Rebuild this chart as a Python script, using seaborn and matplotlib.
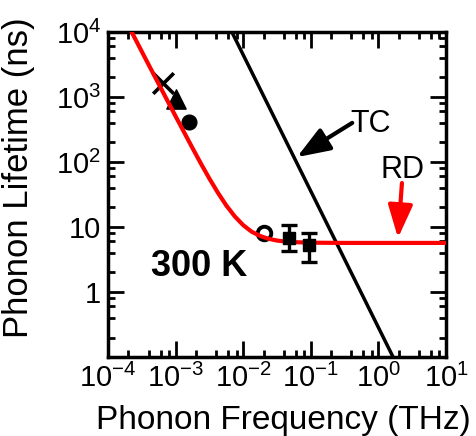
import matplotlib
matplotlib.use("Agg")
import numpy as np
import matplotlib.pyplot as plt
import matplotlib.ticker as mticker
import seaborn as sns

# RD curve (red)
rd_freq = [2.0e-4, 3.16e-4, 5.62e-4, 1.0e-3, 1.78e-3, 2.37e-3, 3.16e-3, 4.22e-3,
           5.62e-3, 7.5e-3, 1.0e-2, 1.33e-2, 1.78e-2, 2.37e-2, 3.16e-2, 4.22e-2,
           5.62e-2, 0.1, 0.316, 1.0, 10.0]
rd_tau = [12565, 5006, 1587, 506, 163.8, 94.6, 55.7, 33.8,
          21.5, 14.6, 10.7, 8.5, 7.28, 6.6, 6.2, 5.98,
          5.86, 5.75, 5.7, 5.7, 5.7]

# TC line (black)
tc_freq = [6.8e-3, 1.65]
tc_tau = [1e4, 0.1]

# measured points
cross_freq = [6.5e-4]
cross_tau = [1640]
tri_freq = [1.0e-3]
tri_tau = [920]
dot_freq = [1.58e-3]
dot_tau = [410]
ring_freq = [0.02]
ring_tau = [8.0]
sq_freq = [0.047, 0.095]
sq_tau = [6.8, 5.3]
sq_lo = [4.3, 2.9]
sq_hi = [10.7, 8.1]

y_ticks = [1, 10, 100, 1000, 10000]
y_labels = ["1", "10", r"$10^{2}$", r"$10^{3}$", r"$10^{4}$"]

sns.set_style("ticks")
plt.rcParams["font.family"] = ["Liberation Sans", "DejaVu Sans"]
plt.rcParams["mathtext.fontset"] = "custom"
plt.rcParams["mathtext.rm"] = "Liberation Sans"
plt.rcParams["mathtext.it"] = "Liberation Sans:italic"
plt.rcParams["mathtext.bf"] = "Liberation Sans:bold"
plt.rcParams["text.color"] = "black"
plt.rcParams["axes.labelcolor"] = "black"

fig, ax = plt.subplots(figsize=(4.77, 4.36), dpi=100)
fig.subplots_adjust(left=0.2264, right=0.935, bottom=0.181, top=0.9266)

sns.lineplot(x=tc_freq, y=tc_tau, color="black", lw=2.5, ax=ax,
             estimator=None, sort=False, zorder=2)

sns.scatterplot(x=ring_freq, y=ring_tau, marker="o", s=95, facecolor="white",
                edgecolor="black", linewidth=2.8, ax=ax, zorder=3)
sns.scatterplot(x=cross_freq, y=cross_tau, marker="x", s=220, color="black",
                linewidth=2.6, ax=ax, zorder=3)
sns.scatterplot(x=tri_freq, y=tri_tau, marker="^", s=190, color="black",
                edgecolor="black", ax=ax, zorder=3)
sns.scatterplot(x=dot_freq, y=dot_tau, marker="o", s=115, color="black",
                edgecolor="black", ax=ax, zorder=3)

sns.lineplot(x=rd_freq, y=rd_tau, color="red", lw=3, ax=ax,
             estimator=None, sort=False, zorder=4)

ax.errorbar(sq_freq, sq_tau,
            yerr=[np.subtract(sq_tau, sq_lo), np.subtract(sq_hi, sq_tau)],
            fmt="s", color="black", ms=8.5, capsize=6, capthick=2.4,
            elinewidth=2.4, zorder=5)

ax.set_xscale("log")
ax.set_yscale("log")
ax.set_xlim(1e-4, 10)
ax.set_ylim(0.1, 1e4)

# annotations
ax.annotate("", xy=(0.0625, 119), xytext=(0.41, 400),
            arrowprops=dict(arrowstyle="-|>,head_length=0.8,head_width=0.3",
                            color="black", lw=3, mutation_scale=25,
                            shrinkA=0, shrinkB=0))
ax.text(0.78, 385, "TC", fontsize=22, ha="center", va="center")

ax.annotate("", xy=(1.95, 6.8), xytext=(2.23, 47.5),
            arrowprops=dict(arrowstyle="-|>,head_length=0.8,head_width=0.3",
                            color="red", lw=3, mutation_scale=25,
                            shrinkA=0, shrinkB=0))
ax.text(2.31, 75, "RD", fontsize=22, ha="center", va="center")

ax.text(2.22e-3, 2.43, "300 K", fontsize=26, fontweight="bold",
        ha="center", va="center")

# ticks
ax.xaxis.set_major_locator(mticker.LogLocator(base=10, numticks=10))
ax.xaxis.set_minor_locator(mticker.LogLocator(base=10, subs=(2, 4, 6, 8), numticks=10))
ax.xaxis.set_minor_formatter(mticker.NullFormatter())
ax.yaxis.set_major_locator(mticker.FixedLocator(y_ticks))
ax.yaxis.set_major_formatter(mticker.FixedFormatter(y_labels))
ax.yaxis.set_minor_locator(mticker.LogLocator(base=10, subs=(2, 4, 6, 8), numticks=10))
ax.yaxis.set_minor_formatter(mticker.NullFormatter())

ax.tick_params(which="both", direction="in", top=True, right=True,
               width=2, colors="black", labelsize=21)
ax.tick_params(which="major", length=11.5, pad=5)
ax.tick_params(which="minor", length=5)
for s in ax.spines.values():
    s.set_linewidth(2.5)
    s.set_color("black")

ax.set_xlabel("Phonon Frequency (THz)", fontsize=24)
ax.set_ylabel("Phonon Lifetime (ns)", fontsize=25)
ax.xaxis.set_label_coords(0.518, -0.194)
ax.xaxis.label.set_va("center")
ax.yaxis.set_label_coords(-0.266, 0.551)
ax.yaxis.label.set_va("center")

fig.savefig("out.png", dpi=100)
